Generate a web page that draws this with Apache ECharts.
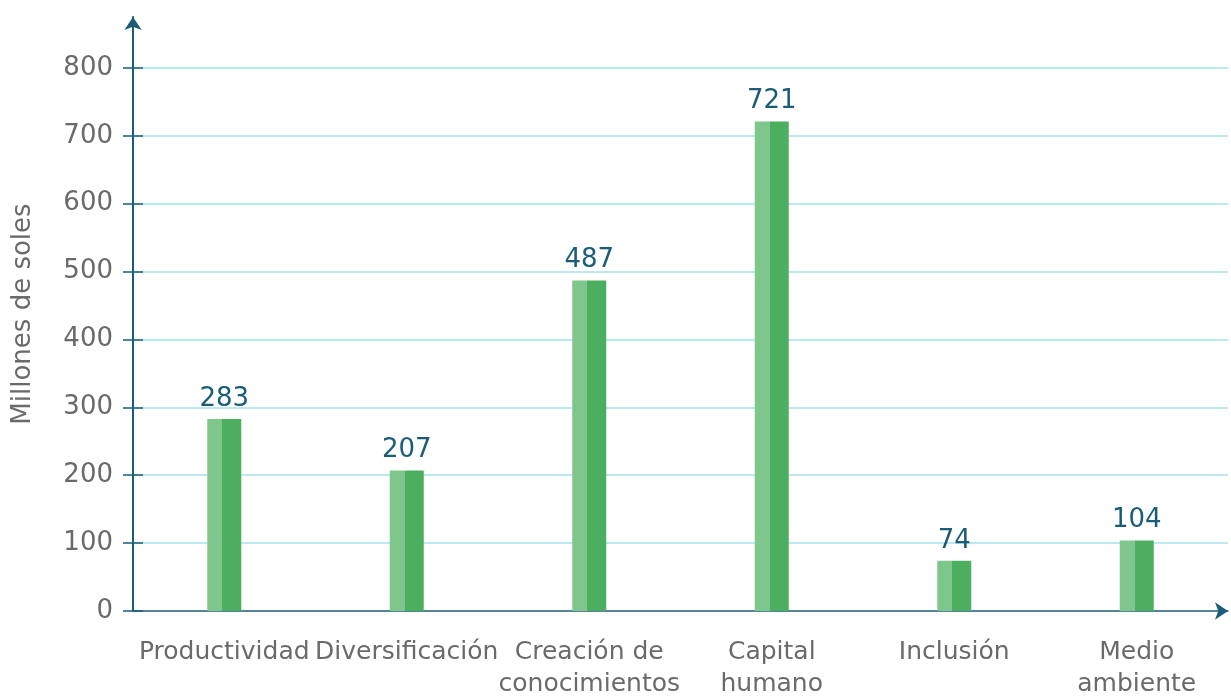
<!DOCTYPE html>
<html>
<head>
<meta charset="utf-8">
<script src="https://cdn.jsdelivr.net/npm/echarts@6/dist/echarts.min.js"></script>
<style>
  html, body { margin: 0; padding: 0; background: #fff; }
  #chart { width: 1231px; height: 696px; }
</style>
</head>
<body>
<div id="chart"></div>
<script>
// datos
const categorias = ['Productividad', 'Diversificación', 'Creación de conocimientos', 'Capital humano', 'Inclusión', 'Medio ambiente']
const montos = [283, 207, 487, 721, 74, 104]
const marcasY = [0, 100, 200, 300, 400, 500, 600, 700, 800]

const chart = echarts.init(document.getElementById('chart'))

const fuente = 'DejaVu Sans'
const gris = '#6a6a6a'
const azul = '#1b5d77'

// barra en dos tonos (claro a la izquierda, oscuro a la derecha)
const verde = new echarts.graphic.LinearGradient(0, 0, 1, 0, [
  { offset: 0, color: '#7ec68b' },
  { offset: 0.44, color: '#7ec68b' },
  { offset: 0.44, color: '#4caf5f' },
  { offset: 1, color: '#4caf5f' }
])

const option = {
  animation: false,
  grid: {
    left: 133,
    right: 3,
    top: 17,
    bottom: 85,
    outerBoundsMode: 'none'
  },
  xAxis: {
    type: 'category',
    data: categorias,
    axisLine: {
      lineStyle: { color: azul, width: 1.5 },
      symbol: ['none', 'arrow'],
      symbolSize: [13, 13]
    },
    axisTick: { show: false },
    axisLabel: {
      color: gris,
      fontFamily: fuente,
      fontSize: 25,
      lineHeight: 32,
      margin: 25,
      interval: 0,
      // nombres de dos palabras en dos lineas
      formatter: (v) => v.replace(/ (\S+)$/, '\n$1')
    }
  },
  yAxis: [
    {
      type: 'value',
      min: 0,
      max: 875,
      name: 'Millones de soles',
      nameLocation: 'middle',
      nameGap: 97,
      nameTextStyle: { color: gris, fontFamily: fuente, fontSize: 26 },
      axisLine: {
        show: true,
        lineStyle: { color: azul, width: 2 },
        symbol: ['none', 'arrow'],
        symbolSize: [13, 13]
      },
      axisTick: { show: false, customValues: marcasY },
      axisLabel: {
        color: gris,
        fontFamily: fuente,
        fontSize: 26,
        margin: 20,
        customValues: marcasY
      },
      splitLine: {
        show: true,
        showMinLine: false,
        lineStyle: { color: '#a6e0ec', width: 1.5 }
      }
    },
    {
      // marcas que cruzan el eje
      type: 'value',
      position: 'left',
      offset: -10,
      min: 0,
      max: 875,
      axisLine: { show: true, lineStyle: { color: 'rgba(0,0,0,0)' } },
      axisTick: {
        show: true,
        length: 20,
        customValues: marcasY,
        lineStyle: { color: azul, width: 1.5 }
      },
      axisLabel: { show: false },
      splitLine: { show: false }
    }
  ],
  series: [
    {
      type: 'bar',
      data: montos,
      barWidth: 34,
      itemStyle: { color: verde },
      label: {
        show: true,
        position: 'top',
        distance: 7,
        color: azul,
        fontFamily: fuente,
        fontSize: 26
      }
    }
  ]
}

chart.setOption(option)
</script>
</body>
</html>
